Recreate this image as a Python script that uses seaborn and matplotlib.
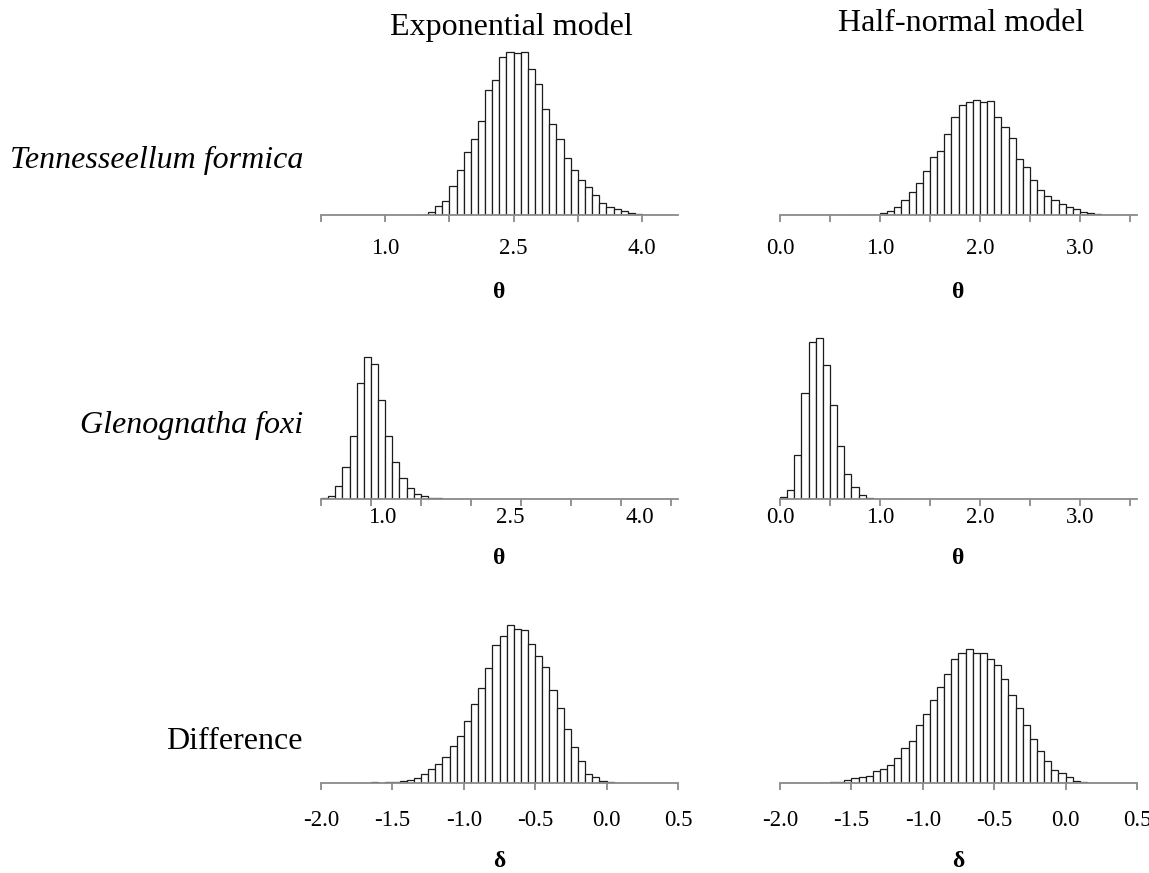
import numpy as np
import pandas as pd
import matplotlib
matplotlib.use("Agg")
import matplotlib.pyplot as plt
import seaborn as sns

# ---------------- data ----------------
col_titles = ["Exponential model", "Half-normal model"]
row_labels = ["Tennesseellum formica", "Glenognatha foxi", "Difference"]
x_symbols = ["θ", "θ", "δ"]

# Tennesseellum formica — exponential model (theta)
tf_exp_start = 4 / 3
tf_exp_width = 1 / 12
tf_exp_counts = [1, 1, 10, 28, 41, 88, 135, 189, 227, 281, 374, 405, 473, 488, 487, 488,
                 437, 394, 319, 273, 227, 172, 135, 104, 84, 60, 36, 23, 17, 12, 6,
                 2, 1, 1, 1, 1, 1]

# Tennesseellum formica — half-normal model (theta)
tf_hn_start = 9 / 14
tf_hn_width = 1 / 14
tf_hn_counts = [1, 1, 1, 1, 1, 7, 13, 25, 45, 68, 97, 131, 175, 193, 244, 295, 330, 339,
                344, 339, 342, 293, 264, 230, 167, 143, 106, 74, 57, 45, 33, 23, 18, 9, 5,
                2, 1, 1, 1, 1, 1]

# Glenognatha foxi — exponential model (theta)
gf_exp_start = 0.25
gf_exp_width = 1 / 12
gf_exp_counts = [3, 9, 41, 96, 191, 349, 428, 407, 297, 191, 113, 65, 35, 15, 9,
                 3, 3, 2, 2, 1]

# Glenognatha foxi — half-normal model (theta)
gf_hn_start = 0.0
gf_hn_width = 1 / 14
gf_hn_counts = [6, 29, 132, 318, 473, 483, 402, 282, 161, 77, 38, 12, 3, 2, 2, 1, 1, 1]

# Difference — exponential model (delta)
d_exp_start = -1.7
d_exp_width = 0.05
d_exp_counts = [1, 3, 1, 3, 4, 7, 10, 16, 27, 42, 59, 79, 112, 143, 187, 237, 287, 345,
                414, 443, 475, 463, 459, 418, 382, 350, 281, 225, 163, 108, 67, 28, 18,
                7, 5, 2]

# Difference — half-normal model (delta)
d_hn_start = -2.0
d_hn_width = 0.05
d_hn_counts = [1, 1, 0, 1, 1, 1, 1, 3, 5, 9, 15, 18, 22, 36, 44, 55, 76, 105, 128, 174,
               208, 249, 289, 327, 373, 392, 404, 392, 392, 373, 355, 314, 265, 225, 174,
               134, 98, 66, 41, 30, 18, 6, 3, 2, 1, 1, 1, 1, 1, 1]

# axis ranges, tick marks and tick labels
theta_exp_xlim = (0.25, 4.42)
theta_exp_marks_top = [0.25, 1.0, 1.75, 2.5, 3.25, 4.0]
theta_exp_marks_mid = [0.25, 0.8333, 1.4167, 2.0, 2.5833, 3.1667, 3.75, 4.3333]
theta_exp_label_pos_top = [1.0, 2.5, 4.0]
theta_exp_label_pos_mid = [0.97, 2.46, 3.97]
theta_exp_labels = ["1.0", "2.5", "4.0"]

theta_hn_xlim = (0.0, 3.57)
theta_hn_marks = [0.0, 0.5, 1.0, 1.5, 2.0, 2.5, 3.0, 3.5]
theta_hn_label_pos = [0.0, 1.0, 2.0, 3.0]
theta_hn_labels = ["0.0", "1.0", "2.0", "3.0"]

delta_xlim = (-2.0, 0.5)
delta_marks = [-2.0, -1.5, -1.0, -0.5, 0.0, 0.5]
delta_labels = ["-2.0", "-1.5", "-1.0", "-0.5", "0.0", "0.5"]

panels = [
    [dict(start=tf_exp_start, width=tf_exp_width, counts=tf_exp_counts, xlim=theta_exp_xlim,
          marks=theta_exp_marks_top, lpos=theta_exp_label_pos_top, labels=theta_exp_labels),
     dict(start=tf_hn_start, width=tf_hn_width, counts=tf_hn_counts, xlim=theta_hn_xlim,
          marks=theta_hn_marks, lpos=theta_hn_label_pos, labels=theta_hn_labels)],
    [dict(start=gf_exp_start, width=gf_exp_width, counts=gf_exp_counts, xlim=theta_exp_xlim,
          marks=theta_exp_marks_mid, lpos=theta_exp_label_pos_mid, labels=theta_exp_labels),
     dict(start=gf_hn_start, width=gf_hn_width, counts=gf_hn_counts, xlim=theta_hn_xlim,
          marks=theta_hn_marks, lpos=theta_hn_label_pos, labels=theta_hn_labels)],
    [dict(start=d_exp_start, width=d_exp_width, counts=d_exp_counts, xlim=delta_xlim,
          marks=delta_marks, lpos=delta_marks, labels=delta_labels),
     dict(start=d_hn_start, width=d_hn_width, counts=d_hn_counts, xlim=delta_xlim,
          marks=delta_marks, lpos=delta_marks, labels=delta_labels)],
]

# ---------------- styling / layout ----------------
sns.set_style("white")
plt.rcParams["font.family"] = ["Liberation Serif", "DejaVu Serif"]
plt.rcParams["text.color"] = "black"

W, H = 1149, 873
fig = plt.figure(figsize=(W / 100, H / 100), dpi=100)

col_left = [321, 780]
ax_w = 357
row_base = [215, 499.3, 783.3]
ax_h = 175
label_pad = [16.6, 5.4, 19.4]          # points between axis line and tick-label top
xlabel_y = [-78 / ax_h, -59 / ax_h, -78 / ax_h]

axis_grey = "#8a8a8a"
bar_edge = "#1c1c1c"

for r in range(3):
    for c in range(2):
        p = panels[r][c]
        ax = fig.add_axes([col_left[c] / W, 1 - row_base[r] / H, ax_w / W, ax_h / H])
        n = len(p["counts"])
        edges = p["start"] + p["width"] * np.arange(n + 1)
        centers = (edges[:-1] + edges[1:]) / 2
        df = pd.DataFrame({"value": centers, "count": p["counts"]})
        sns.histplot(data=df, x="value", weights="count", bins=edges.tolist(), ax=ax,
                     color="white", edgecolor=bar_edge, linewidth=0.9, alpha=1)
        ax.set_xlim(*p["xlim"])
        ax.set_ylim(0, 3 * ax_h)
        ax.set_yticks([])
        ax.set_ylabel("")
        for s in ["left", "right", "top"]:
            ax.spines[s].set_visible(False)
        ax.spines["bottom"].set_color(axis_grey)
        ax.spines["bottom"].set_linewidth(1.3)

        ax.xaxis.remove_overlapping_locs = False
        ax.set_xticks(p["lpos"])
        ax.set_xticklabels(p["labels"])
        ax.set_xticks(p["marks"], minor=True)
        ax.tick_params(axis="x", which="major", bottom=True, length=0,
                       pad=label_pad[r], labelsize=16.5, labelcolor="black")
        ax.tick_params(axis="x", which="minor", bottom=True, length=5.2, width=1.3,
                       color=axis_grey, direction="out")

        ax.set_xlabel(x_symbols[r], fontsize=17, fontweight="bold", color="black")
        ax.xaxis.set_label_coords(0.5, xlabel_y[r])
        ax.xaxis.label.set_va("center")

# column titles
fig.text(511 / W, 1 - 35 / H, col_titles[0], ha="center", va="baseline", fontsize=23,
         color="black")
fig.text(961 / W, 1 - 31 / H, col_titles[1], ha="center", va="baseline", fontsize=23,
         color="black")

# row labels
row_label_base = [168, 433, 749]
for r in range(3):
    style = "italic" if r < 2 else "normal"
    fig.text(303 / W, 1 - row_label_base[r] / H, row_labels[r], ha="right", va="baseline",
             fontsize=23, style=style, color="black")

fig.savefig("out.png", dpi=100, facecolor="white")
